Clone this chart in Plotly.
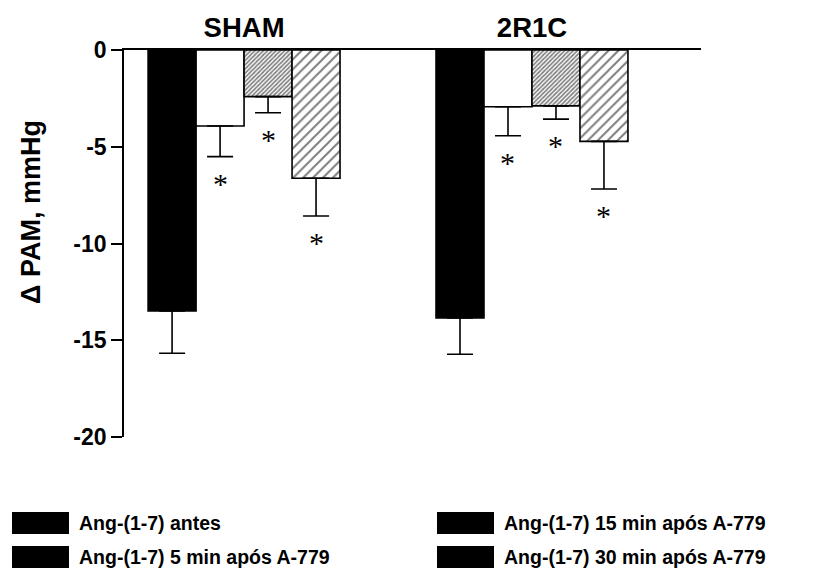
import plotly.graph_objects as go

# ---------------- data ----------------
groups = ["SHAM", "2R1C"]
series_names = [
    "Ang-(1-7) antes",
    "Ang-(1-7) 5 min após A-779",
    "Ang-(1-7) 15 min após A-779",
    "Ang-(1-7) 30 min após A-779",
]
antes = [-13.49, -13.85]
min5 = [-3.93, -2.93]
min15 = [-2.41, -2.89]
min30 = [-6.63, -4.72]
err_antes = [2.18, 1.87]
err_min5 = [1.58, 1.50]
err_min15 = [0.83, 0.68]
err_min30 = [1.95, 2.46]
signif_antes = [False, False]
signif_min5 = [True, True]
signif_min15 = [True, True]
signif_min30 = [True, True]
y_ticks = [0, -5, -10, -15, -20]

values = [antes, min5, min15, min30]
errors = [err_antes, err_min5, err_min15, err_min30]
signif = [signif_antes, signif_min5, signif_min15, signif_min30]

# ---------------- styling ----------------
W, H = 838, 580
OFF = 8  # page body margin in the browser
PL, PR, PT, PB = 124, 701, 50, 437  # plot area in window pixels
ML = PL - OFF
MT = PT - OFF
MR = (W + OFF) - PR
MB = (H + OFF) - PB
PW = PR - PL
PH = PB - PT

def px_x(x):
    return (x - PL) / PW

def px_y(y):
    return (PB - y) / PH

styles = [
    dict(color="black", pattern=None),
    dict(color="white", pattern=None),
    dict(color="white", pattern=dict(shape="/", size=3, solidity=0.55,
                                     fgcolor="black", bgcolor="white")),
    dict(color="white", pattern=dict(shape="/", size=7, solidity=0.28,
                                     fgcolor="black", bgcolor="white")),
]

BARGAP = 1 / 3
n = len(series_names)
bw = (1 - BARGAP) / n

fig = go.Figure()
xs = list(range(len(groups)))
for i, name in enumerate(series_names):
    st = styles[i]
    marker = dict(color=st["color"], line=dict(color="black", width=1.6))
    if st["pattern"] is not None:
        marker["pattern"] = st["pattern"]
    fig.add_trace(go.Bar(
        x=xs, y=values[i], name=name, showlegend=False,
        marker=marker,
        error_y=dict(type="data", symmetric=False,
                     array=[0] * len(groups), arrayminus=errors[i],
                     color="black", thickness=1.6, width=13),
    ))

annotations = []
for i in range(n):
    off = -(1 - BARGAP) / 2 + bw * (i + 0.5)
    for g in range(len(groups)):
        if signif[i][g]:
            annotations.append(dict(
                x=xs[g] + off, y=values[i][g] - errors[i][g],
                xref="x", yref="y", text="*", showarrow=False,
                yanchor="top", yshift=-8,
                font=dict(family="Liberation Serif", size=30, color="black"),
            ))

# y-axis title
annotations.append(dict(
    x=px_x(31), y=px_y(212), xref="paper", yref="paper",
    xanchor="center", yanchor="middle",
    text="<b>\u0394 PAM, mmHg</b>", textangle=-90, showarrow=False,
    font=dict(family="Liberation Sans", size=27, color="black"),
))

# manual legend (two columns)
shapes = []
leg_pos = [(12, 523), (12, 557), (437, 523), (437, 557)]
for i, name in enumerate(series_names):
    x0, yc = leg_pos[i]
    shapes.append(dict(type="rect", xref="paper", yref="paper",
                       x0=px_x(x0), x1=px_x(x0 + 57),
                       y0=px_y(yc + 11), y1=px_y(yc - 11),
                       fillcolor="black", line=dict(width=0)))
    annotations.append(dict(
        x=px_x(x0 + 65), y=px_y(yc), xref="paper", yref="paper",
        text="<b>" + name + "</b>", showarrow=False,
        xanchor="left", yanchor="middle",
        font=dict(family="Liberation Sans", size=19.5, color="black"),
    ))

fig.update_layout(
    width=W, height=H,
    margin=dict(l=ML, r=MR, t=MT, b=MB, autoexpand=False),
    paper_bgcolor="white", plot_bgcolor="white",
    barmode="group", bargap=BARGAP, bargroupgap=0,
    annotations=annotations, shapes=shapes,
    showlegend=False,
    xaxis=dict(
        side="top", tickmode="array", tickvals=xs, ticktext=groups,
        range=[-0.417, 1.587], showline=True, linecolor="black",
        linewidth=1.6, ticks="", showgrid=False, zeroline=False,
        automargin=False,
        tickfont=dict(family="Liberation Sans", size=27.5, color="black",
                      weight="bold"),
        ticklabelstandoff=0,
    ),
    yaxis=dict(
        range=[-20, 0], tickmode="array", tickvals=y_ticks,
        ticktext=[str(v) for v in y_ticks],
        showline=True, linecolor="black", linewidth=1.6,
        ticks="outside", ticklen=11, tickwidth=1.6, tickcolor="black",
        showgrid=False, zeroline=False, automargin=False,
        tickfont=dict(family="Liberation Sans", size=23, color="black",
                      weight="bold"),
    ),
)

fig.write_html("out.html")
